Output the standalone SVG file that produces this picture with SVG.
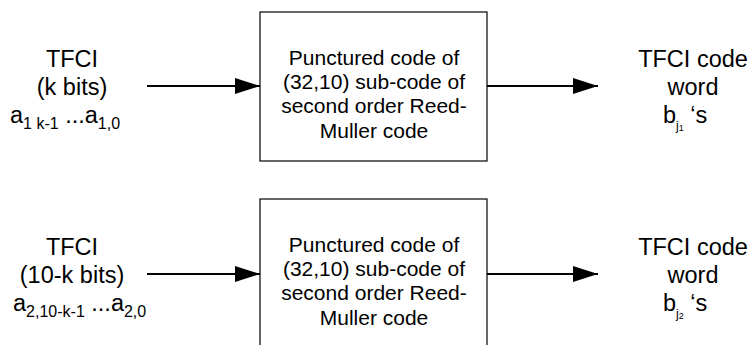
<svg xmlns="http://www.w3.org/2000/svg" width="752" height="345" viewBox="0 0 752 345">
<style>
text{font-family:"Liberation Sans",Arial,sans-serif;fill:#000}
.lbl{font-size:23.5px;text-anchor:middle}
.box{font-size:21px;text-anchor:middle}
.blk{fill:#fff;stroke:#000;stroke-width:1.2}
.wire{stroke:#000;stroke-width:2;fill:none;marker-end:url(#ah)}
</style>
<defs>
<marker id="ah" markerUnits="userSpaceOnUse" markerWidth="26" markerHeight="18" refX="25" refY="8" orient="auto">
<path d="M0,0 L25,8 L0,16 Z" fill="#000"/>
</marker>
</defs>
<rect width="752" height="345" fill="#fff"/>
<g id="connectors">
<line class="wire" x1="147" y1="86" x2="260" y2="86"/>
<line class="wire" x1="487" y1="86" x2="598" y2="86"/>
<line class="wire" x1="147" y1="274" x2="260" y2="274"/>
<line class="wire" x1="487" y1="274" x2="598" y2="274"/>
</g>
<g id="in1">
<text class="lbl" x="72" y="67">TFCI</text>
<text class="lbl" x="72" y="95">(k bits)</text>
<text x="10" y="123" font-size="23.5">a<tspan font-size="16" dy="6">1 k-1</tspan><tspan dy="-6"> ...a</tspan><tspan font-size="16" dy="6">1,0</tspan></text>
</g>
<g id="enc1">
<rect class="blk" x="260" y="12" width="227" height="149"/>
<text class="box" x="374" y="65">Punctured code of</text>
<text class="box" x="374" y="89">(32,10) sub-code of</text>
<text class="box" x="374" y="113">second order Reed-</text>
<text class="box" x="374" y="138">Muller code</text>
</g>
<g id="out1">
<text class="lbl" x="693" y="67">TFCI code</text>
<text class="lbl" x="693" y="95">word</text>
<text x="663" y="123" font-size="23.5">b<tspan font-size="12" dy="7">j</tspan><tspan font-size="9" dy="1">1</tspan><tspan dy="-8"> ‘s</tspan></text>
</g>
<g id="in2">
<text class="lbl" x="72" y="255">TFCI</text>
<text class="lbl" x="72" y="283">(10-k bits)</text>
<text x="13" y="311" font-size="23.5">a<tspan font-size="16" dy="6">2,10-k-1</tspan><tspan dy="-6"> ...a</tspan><tspan font-size="16" dy="6">2,0</tspan></text>
</g>
<g id="enc2">
<rect class="blk" x="260" y="199" width="227" height="160"/>
<text class="box" x="374" y="252">Punctured code of</text>
<text class="box" x="374" y="276">(32,10) sub-code of</text>
<text class="box" x="374" y="300">second order Reed-</text>
<text class="box" x="374" y="325">Muller code</text>
</g>
<g id="out2">
<text class="lbl" x="693" y="255">TFCI code</text>
<text class="lbl" x="693" y="283">word</text>
<text x="663" y="311" font-size="23.5">b<tspan font-size="12" dy="7">j</tspan><tspan font-size="9" dy="1">2</tspan><tspan dy="-8"> ‘s</tspan></text>
</g>
</svg>
